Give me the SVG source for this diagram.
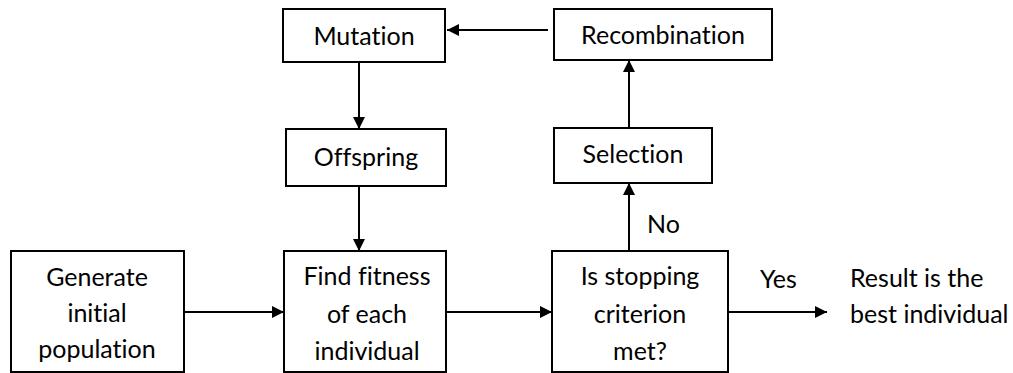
<svg xmlns="http://www.w3.org/2000/svg" width="1013" height="373" viewBox="0 0 1013 373">
<defs>
<style>
.box{fill:#fff;stroke:#000;stroke-width:2}
.t{font-family:Lato,"Liberation Sans",sans-serif;font-size:25px;fill:#000;text-anchor:middle;font-variant-ligatures:none}
.l{font-family:Lato,"Liberation Sans",sans-serif;font-size:25px;fill:#000;font-variant-ligatures:none}
.c{stroke:#000;stroke-width:2;fill:none;marker-end:url(#ah)}
</style>
<marker id="ah" viewBox="0 0 12 12" refX="12" refY="6" markerWidth="12" markerHeight="12" markerUnits="userSpaceOnUse" orient="auto">
<path d="M0,0 L12,6 L0,12 z" fill="#000"/>
</marker>
</defs>
<rect width="1013" height="373" fill="#fff"/>
<g id="connectors">
<line class="c" x1="548" y1="30" x2="447" y2="30"/>
<line class="c" x1="359" y1="62" x2="359" y2="129"/>
<line class="c" x1="359" y1="186" x2="359" y2="251"/>
<line class="c" x1="184" y1="312" x2="284" y2="312"/>
<line class="c" x1="446" y1="312" x2="552" y2="312"/>
<line class="c" x1="629" y1="251" x2="629" y2="183"/>
<line class="c" x1="629" y1="128" x2="629" y2="60"/>
<line class="c" x1="728" y1="312" x2="827" y2="312"/>
</g>
<g id="mutation"><rect class="box" x="283" y="9" width="162" height="53"/><text class="t" x="364" y="45">Mutation</text></g>
<g id="recombination"><rect class="box" x="554" y="9" width="218" height="51"/><text class="t" x="663" y="44">Recombination</text></g>
<g id="offspring"><rect class="box" x="286" y="129" width="160" height="57"/><text class="t" x="366" y="166">Offspring</text></g>
<g id="selection"><rect class="box" x="554" y="128" width="158" height="55"/><text class="t" x="633" y="163">Selection</text></g>
<g id="generate"><rect class="box" x="11" y="251" width="173" height="121"/><text class="t" x="97" y="286">Generate</text><text class="t" x="97" y="322">initial</text><text class="t" x="97" y="358">population</text></g>
<g id="fitness"><rect class="box" x="284" y="251" width="162" height="121"/><text class="t" x="367" y="285">Find fitness</text><text class="t" x="367" y="323">of each</text><text class="t" x="367" y="360">individual</text></g>
<g id="stopping"><rect class="box" x="552" y="251" width="176" height="121"/><text class="t" x="640" y="285">Is stopping</text><text class="t" x="640" y="323">criterion</text><text class="t" x="640" y="360">met?</text></g>
<g id="labels"><text class="l" x="647" y="233">No</text><text class="l" x="760" y="288">Yes</text></g>
<g id="result"><text class="l" x="850" y="287">Result is the</text><text class="l" x="850" y="323">best individual</text></g>
</svg>
